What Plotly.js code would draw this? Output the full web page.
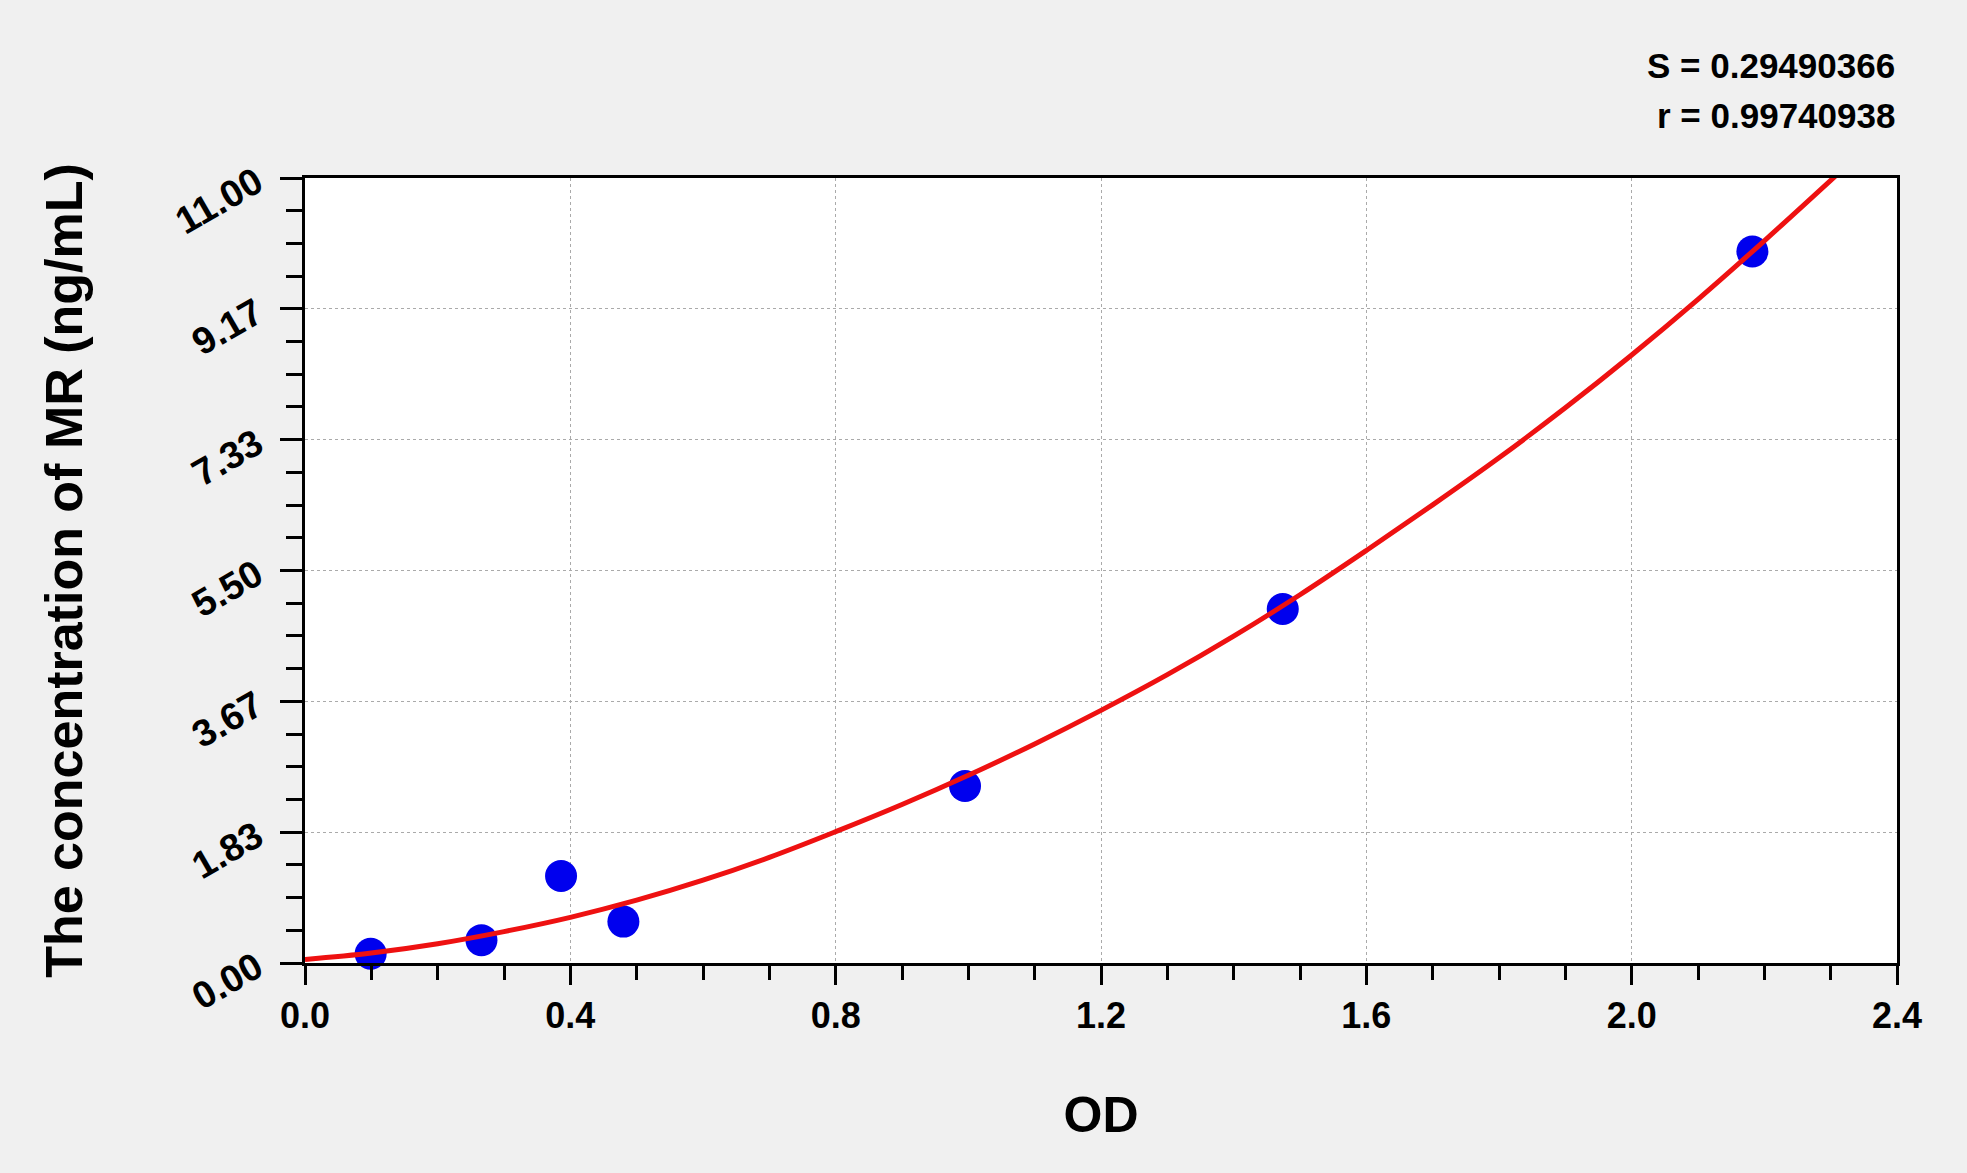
<!DOCTYPE html>
<html>
<head>
<meta charset="utf-8">
<script src="https://cdn.plot.ly/plotly-3.0.1.min.js"></script>
<style>
  html, body { margin: 0; padding: 0; background: #f0f0f0; }
  #graph1 { width: 1967px; height: 1173px; }
</style>
</head>
<body>
<div id="graph1"></div>
<script>
// standard points (OD vs concentration)
var odPoints = [0.099, 0.266, 0.386, 0.480, 0.995, 1.474, 2.182];
var concPoints = [0.13, 0.32, 1.22, 0.58, 2.48, 4.96, 9.97];

// fitted curve
var curveOD = [0.0, 0.1, 0.2, 0.3, 0.4, 0.5, 0.6, 0.7, 0.8, 0.9, 1.0, 1.1, 1.2,
               1.3, 1.4, 1.5, 1.6, 1.7, 1.8, 1.9, 2.0, 2.1, 2.2, 2.311];
var curveConc = [0.05, 0.14, 0.27, 0.44, 0.64, 0.88, 1.16, 1.48, 1.84, 2.22, 2.63, 3.07, 3.54,
                 4.04, 4.58, 5.16, 5.78, 6.42, 7.08, 7.78, 8.52, 9.30, 10.12, 11.06];

var yTickVals = [0, 1.8333, 3.6667, 5.5, 7.3333, 9.1667, 11];
var yTickText = ['0.00', '1.83', '3.67', '5.50', '7.33', '9.17', '11.00'];
var xTickVals = [0, 0.4, 0.8, 1.2, 1.6, 2.0, 2.4];
var xTickText = ['0.0', '0.4', '0.8', '1.2', '1.6', '2.0', '2.4'];

var statLines = ['S = 0.29490366', 'r = 0.99740938'];

var font = 'Arial, "Liberation Sans", sans-serif';

var data = [
  {
    x: odPoints,
    y: concPoints,
    type: 'scatter',
    mode: 'markers',
    marker: {color: '#0000ee', size: 32},
    cliponaxis: false,
    hoverinfo: 'none'
  },
  {
    x: curveOD,
    y: curveConc,
    type: 'scatter',
    mode: 'lines',
    line: {color: '#ee1111', width: 5, shape: 'spline'},
    hoverinfo: 'none'
  }
];

var layout = {
  width: 1967,
  height: 1173,
  showlegend: false,
  paper_bgcolor: '#f0f0f0',
  plot_bgcolor: '#ffffff',
  margin: {l: 305, r: 70, t: 178, b: 210},
  font: {family: font, color: '#000000'},
  xaxis: {
    range: [0, 2.4],
    tickmode: 'array',
    tickvals: xTickVals,
    ticktext: xTickText,
    tickfont: {family: font, size: 36, weight: 'bold'},
    ticks: 'outside',
    ticklen: 19,
    tickwidth: 3,
    tickcolor: '#000',
    minor: {tickmode: 'linear', tick0: 0, dtick: 0.1, ticks: 'outside', ticklen: 14, tickwidth: 3, tickcolor: '#000'},
    showline: true,
    linecolor: '#000',
    linewidth: 3,
    mirror: true,
    showgrid: true,
    gridcolor: '#aaaaaa',
    gridwidth: 1,
    griddash: 'dot',
    zeroline: false,
    title: {text: 'OD', font: {family: font, size: 50, weight: 'bold'}, standoff: 62}
  },
  yaxis: {
    range: [0, 11],
    tickmode: 'array',
    tickvals: yTickVals,
    ticktext: yTickText,
    tickangle: -30,
    tickfont: {family: font, size: 38, weight: 'bold'},
    ticklabelstandoff: 16,
    ticks: 'outside',
    ticklen: 22,
    tickwidth: 3,
    tickcolor: '#000',
    minor: {tickmode: 'linear', tick0: 0, dtick: 11 / 24, ticks: 'outside', ticklen: 16, tickwidth: 3, tickcolor: '#000'},
    showline: true,
    linecolor: '#000',
    linewidth: 3,
    mirror: true,
    showgrid: true,
    gridcolor: '#aaaaaa',
    gridwidth: 1,
    griddash: 'dot',
    zeroline: false,
    title: {text: 'The concentration of MR (ng/mL)', font: {family: font, size: 52, weight: 'bold'}, standoff: 70}
  },
  annotations: [
    {
      xref: 'paper', yref: 'paper', x: 1, y: 1.143,
      xanchor: 'right', yanchor: 'middle', showarrow: false,
      text: statLines[0],
      font: {family: font, size: 35, weight: 'bold'}
    },
    {
      xref: 'paper', yref: 'paper', x: 1, y: 1.080,
      xanchor: 'right', yanchor: 'middle', showarrow: false,
      text: statLines[1],
      font: {family: font, size: 35, weight: 'bold'}
    }
  ]
};

Plotly.newPlot('graph1', data, layout, {staticPlot: true});
</script>
</body>
</html>
